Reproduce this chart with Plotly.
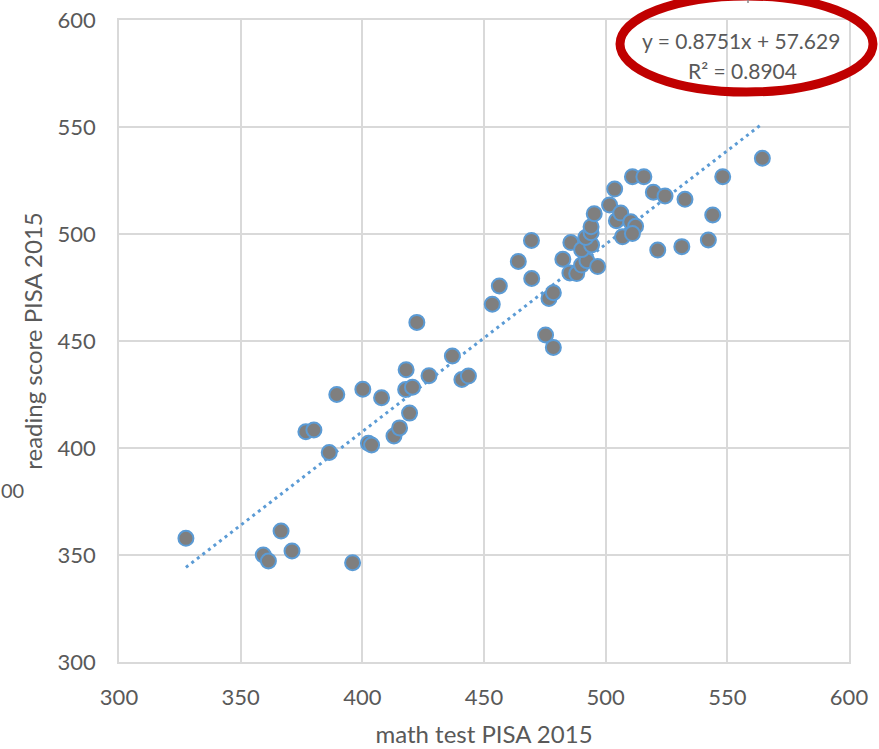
import plotly.graph_objects as go

# PISA 2015 country averages: mathematics (x) vs reading (y)
math_scores = [
    327.5, 359.3, 361.4, 366.6, 371.1, 396.0, 376.8, 380.1, 386.4, 389.5,
    400.2, 402.5, 403.8, 407.9, 413.0, 415.3, 417.8, 418.0, 419.4, 420.6,
    422.4, 427.4, 437.0, 440.9, 443.6, 453.4, 456.3, 464.1, 469.5, 469.6,
    475.3, 478.5, 476.7, 478.5, 482.4, 485.3, 488.1, 485.7, 490.1, 492.3,
    496.7, 490.1, 494.2, 491.8, 494.0, 494.0, 495.3, 501.6, 503.7, 504.4,
    506.2, 506.9, 510.3, 512.3, 511.0, 511.0, 515.7, 519.6, 521.4, 524.4,
    531.3, 532.6, 542.2, 544.0, 548.1, 564.4,
]
reading_scores = [
    357.8, 350.0, 347.2, 361.2, 351.9, 346.4, 407.6, 408.4, 397.9, 425.0,
    427.5, 402.2, 401.4, 423.5, 405.6, 409.4, 427.3, 436.6, 416.3, 428.4,
    458.7, 433.8, 443.0, 432.0, 433.6, 467.2, 475.7, 487.2, 497.0, 479.2,
    452.8, 447.0, 469.9, 472.6, 488.2, 481.8, 481.5, 496.0, 485.5, 487.5,
    484.8, 492.7, 494.9, 498.4, 500.6, 503.4, 509.5, 513.6, 521.0, 506.2,
    509.8, 498.7, 505.7, 503.6, 500.2, 526.8, 526.8, 519.5, 492.5, 517.8,
    494.1, 516.2, 497.2, 508.9, 526.8, 535.4,
]

# Linear trendline as reported in the equation label
slope = 0.8751
intercept = 57.629
r_squared = 0.8904

x_ticks = [300, 350, 400, 450, 500, 550, 600]
y_ticks = [300, 350, 400, 450, 500, 550, 600]

TEXT = "#595959"
GRID = "#d9d9d9"
BLUE = "#5b9bd5"
FONT = "Lato"

x_min, x_max = min(math_scores), max(math_scores)
trend_x = [x_min, x_max]
trend_y = [slope * v + intercept for v in trend_x]

fig = go.Figure()
fig.add_trace(go.Scatter(
    x=trend_x, y=trend_y, mode="lines",
    line=dict(color=BLUE, width=3, dash="3px,4px"),
    hoverinfo="skip", showlegend=False,
))
fig.add_trace(go.Scatter(
    x=math_scores, y=reading_scores, mode="markers",
    marker=dict(size=15, color="#7f7f7f", line=dict(color=BLUE, width=2)),
    showlegend=False,
))

axis_common = dict(
    showgrid=True, gridcolor=GRID, gridwidth=1.5,
    showline=True, linecolor=GRID, linewidth=1.5, mirror=True,
    zeroline=False, ticks="", automargin=False,
    tickfont=dict(family=FONT, size=22, color=TEXT),
)

fig.update_xaxes(
    range=[300, 600], tickvals=x_ticks, ticktext=[str(v) for v in x_ticks],
    ticklabelstandoff=15,
    title=dict(text="math test PISA 2015", standoff=17,
               font=dict(family=FONT, size=24, color=TEXT)),
    **axis_common,
)
fig.update_yaxes(
    range=[300, 600], tickvals=y_ticks, ticktext=[str(v) for v in y_ticks],
    ticklabelstandoff=17,
    title=dict(text="reading score PISA 2015", standoff=8,
               font=dict(family=FONT, size=24, color=TEXT)),
    **axis_common,
)

def px_x(p):
    return (p - 119) / 730

def px_y(p):
    return (662 - p) / 642

label_font = dict(family=FONT, size=21, color=TEXT)
annotations = [
    dict(text=f"y = {slope}x + {intercept}", x=px_x(741), y=px_y(40),
         xanchor="center", yanchor="middle",
         xref="paper", yref="paper", showarrow=False, font=label_font),
    dict(text=f"R² = {r_squared}", x=px_x(742), y=px_y(70),
         xanchor="center", yanchor="middle",
         xref="paper", yref="paper", showarrow=False, font=label_font),
    dict(text="00", x=px_x(0), y=px_y(490),
         xanchor="left", yanchor="middle", borderpad=0,
         xref="paper", yref="paper", showarrow=False,
         font=dict(family=FONT, size=20, color=TEXT)),
]

shapes = [
    dict(type="circle", xref="paper", yref="paper",
         x0=px_x(620), x1=px_x(873), y0=px_y(92), y1=px_y(-4),
         line=dict(color="#c00000", width=9), fillcolor="rgba(0,0,0,0)"),
    dict(type="line", xref="paper", yref="paper",
         x0=px_x(748), x1=px_x(748), y0=px_y(-2), y1=px_y(3),
         line=dict(color="#8a8a8a", width=1.5)),
]

fig.update_layout(
    width=879, height=749,
    margin=dict(l=119, r=30, t=20, b=87),
    paper_bgcolor="white", plot_bgcolor="white",
    annotations=annotations, shapes=shapes,
    font=dict(family=FONT, color=TEXT),
)

fig.write_html("out.html")
